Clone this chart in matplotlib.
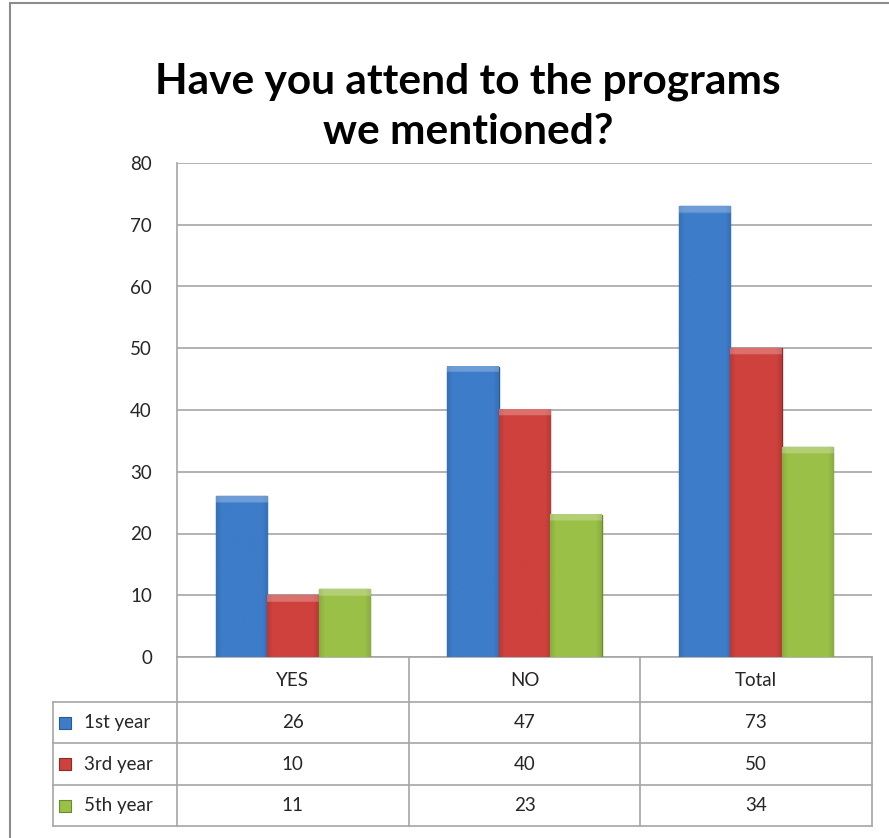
import numpy as np
import matplotlib
matplotlib.use("Agg")
import matplotlib.pyplot as plt
import matplotlib.transforms as mtransforms
from matplotlib.patches import Rectangle
from matplotlib.colors import to_rgb

categories = ["YES", "NO", "Total"]
series_names = ["1st year", "3rd year", "5th year"]
first_year = [26, 47, 73]
third_year = [10, 40, 50]
fifth_year = [11, 23, 34]

colors = ["#3d7cc9", "#cf413d", "#9bc047"]
edges = ["#2a5a96", "#8e2b29", "#6a8a2e"]
grid_c = "#a6a6a6"
text_c = "#262626"

plt.rcParams['font.family'] = ['Lato', 'DejaVu Sans']

W, H = 889, 838
fig = plt.figure(figsize=(W / 100, H / 100), dpi=100)
fig.patches.append(Rectangle((10 / W, -0.1), 1, 1.1 - 3 / H, transform=fig.transFigure,
                             fill=False, edgecolor="#8c8c8c", linewidth=1.5))

# plot area in pixels
px_l, px_r, px_t, px_b = 177, 872, 163, 657
ax = fig.add_axes([px_l / W, 1 - px_b / H, (px_r - px_l) / W, (px_b - px_t) / H])

def ax_x(px):
    return (px - px_l) / (px_r - px_l)

def ax_y(py):
    return (px_b - py) / (px_b - px_t)

def bevel(patch, color, edge):
    # light top bevel and darker sides, clipped to the bar
    c = np.array(to_rgb(color))
    e = np.array(to_rgb(edge))
    nx, ny = 40, 200
    img = np.tile(c, (ny, nx, 1))
    side = np.linspace(0, 1, nx)
    dark = np.clip(1 - np.minimum(side, 1 - side) / 0.1, 0, 1)[None, :, None]
    img = img * (1 - 0.35 * dark) + e * 0.35 * dark
    bx, by = patch.get_x(), patch.get_y()
    bwid, bh = patch.get_width(), patch.get_height()
    top_rows = max(1, int(ny * min(1.0, 1.1 / bh)))
    img[:top_rows] = img[:top_rows] * 0.75 + 0.25
    ax.imshow(img, extent=[bx, bx + bwid, by, by + bh], aspect="auto",
              clip_path=patch, zorder=3, interpolation="bilinear")

values = [first_year, third_year, fifth_year]
x = np.arange(len(categories))
bw = 1 / 4.5
for i, vals in enumerate(values):
    bars = ax.bar(x + (i - 1) * bw, vals, bw, color=colors[i], edgecolor=edges[i],
                  linewidth=1, zorder=3)
    for b in bars:
        bevel(b, colors[i], edges[i])

ax.set_xlim(-0.5, 2.5)
ax.set_ylim(0, 80)
ax.set_yticks(range(0, 81, 10))
ax.set_xticks([])
ax.tick_params(axis='y', length=0, labelsize=13.5, labelcolor=text_c, pad=18)
ax.grid(axis='y', color=grid_c, linewidth=1.2, zorder=0)
for s in ["top", "right", "bottom"]:
    ax.spines[s].set_visible(False)
ax.spines["left"].set_color(grid_c)
ax.spines["left"].set_linewidth(1.2)

fig.text(468 / W, 1 - 82 / H, "Have you attend to the programs", ha="center", va="center",
         fontsize=30.5, fontweight="bold")
fig.text(468 / W, 1 - 132 / H, "we mentioned?", ha="center", va="center",
         fontsize=30.5, fontweight="bold")

# data table under the plot
row_lines = [657, 702, 743, 785, 826]
tbl_left = ax_x(53)
line_kw = dict(color=grid_c, linewidth=1.2, transform=ax.transAxes, clip_on=False)
for k, py in enumerate(row_lines):
    x0 = 0 if k == 0 else tbl_left
    ax.plot([x0, 1], [ax_y(py)] * 2, **line_kw)
for xv in [0, 1 / 3, 2 / 3, 1]:
    ax.plot([xv, xv], [0, ax_y(826)], **line_kw)
ax.plot([tbl_left, tbl_left], [ax_y(702), ax_y(826)], **line_kw)

blend = mtransforms.blended_transform_factory(ax.transData, ax.transAxes)
for j, cat in enumerate(categories):
    ax.text(x[j], ax_y(680), cat, ha="center", va="center", fontsize=13.5,
            color=text_c, transform=blend)
for i, vals in enumerate(values):
    yc = ax_y((row_lines[i + 1] + row_lines[i + 2]) / 2)
    for j, v in enumerate(vals):
        ax.text(x[j], yc, str(v), ha="center", va="center", fontsize=13.5,
                color=text_c, transform=blend)
    ax.text(ax_x(84), yc, series_names[i], ha="left", va="center", fontsize=13.5,
            color=text_c, transform=ax.transAxes)
    ax.scatter([ax_x(65)], [yc], marker="s", s=65, color=colors[i], edgecolor=edges[i],
               linewidth=0.8, transform=ax.transAxes, clip_on=False, zorder=5)

fig.savefig("out.png", dpi=100)
